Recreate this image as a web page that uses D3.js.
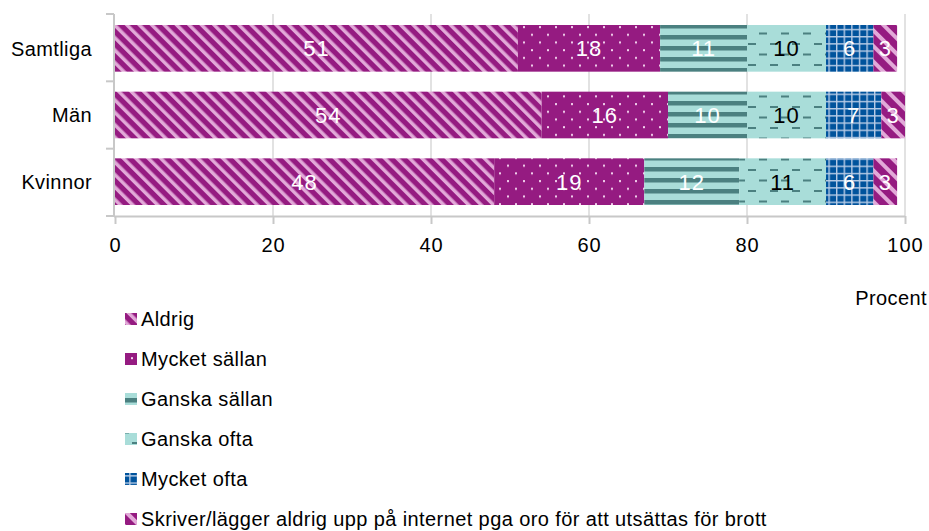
<!DOCTYPE html>
<html><head><meta charset="utf-8">
<script src="https://cdn.jsdelivr.net/npm/d3@7"></script>
<style>
body{margin:0;background:#fff;}
text{font-family:"Liberation Sans",Arial,sans-serif;}
</style></head>
<body><svg id="c" width="929" height="531"></svg>
<script>
const categories = ["Samtliga","Män","Kvinnor"];
const seriesNames = ["Aldrig","Mycket sällan","Ganska sällan","Ganska ofta","Mycket ofta","Skriver/lägger aldrig upp på internet pga oro för att utsättas för brott"];
const aldrig = [51,54,48];
const mycketSallan = [18,16,19];
const ganskaSallan = [11,10,12];
const ganskaOfta = [10,10,11];
const mycketOfta = [6,7,6];
const skriver = [3,3,3];
const xTicks = [0,20,40,60,80,100];
const axisTitle = "Procent";

const seriesValues = [aldrig,mycketSallan,ganskaSallan,ganskaOfta,mycketOfta,skriver];
const patternIds = ["p0","p1","p2","p3","p4","p5"];
const labelColors = ["#fff","#fff","#fff","#000","#fff","#fff"];

const svg = d3.select("#c");
const defs = svg.append("defs");
const PURPLE="#951b81", PINK="#e2a9d8", TL="#a9ddd9", TD="#4b8080", BLUE="#00539c", BL="#b8cce6";

// p0 diagonal stripes
let p = defs.append("pattern").attr("id","p0").attr("patternUnits","userSpaceOnUse")
  .attr("width",8.8).attr("height",8.8).attr("patternTransform","rotate(-45)");
p.append("rect").attr("width",8.8).attr("height",8.8).attr("fill",PURPLE);
p.append("rect").attr("width",3.5).attr("height",8.8).attr("fill",PINK);
// p1 dots
p = defs.append("pattern").attr("id","p1").attr("patternUnits","userSpaceOnUse")
  .attr("width",16).attr("height",15.4);
p.append("rect").attr("width",16).attr("height",15.4).attr("fill",PURPLE);
p.append("rect").attr("x",3).attr("y",3).attr("width",2).attr("height",2).attr("fill","#f3d3ee");
p.append("rect").attr("x",11).attr("y",10.7).attr("width",2).attr("height",2).attr("fill","#f3d3ee");
// p2 horizontal stripes
p = defs.append("pattern").attr("id","p2").attr("patternUnits","userSpaceOnUse")
  .attr("width",10).attr("height",11);
p.append("rect").attr("width",10).attr("height",11).attr("fill",TL);
p.append("rect").attr("y",2).attr("width",10).attr("height",4.5).attr("fill",TD);
// p3 dashes
p = defs.append("pattern").attr("id","p3").attr("patternUnits","userSpaceOnUse")
  .attr("width",22).attr("height",21);
p.append("rect").attr("width",22).attr("height",21).attr("fill",TL);
p.append("rect").attr("x",0).attr("y",1).attr("width",8).attr("height",2).attr("fill",TD);
p.append("rect").attr("x",11).attr("y",11.5).attr("width",8).attr("height",2).attr("fill",TD);
// p4 grid
p = defs.append("pattern").attr("id","p4").attr("patternUnits","userSpaceOnUse")
  .attr("width",7.6).attr("height",7.2);
p.append("rect").attr("width",7.6).attr("height",7.2).attr("fill",BLUE);
p.append("rect").attr("width",1.4).attr("height",7.2).attr("fill",BL);
p.append("rect").attr("width",7.6).attr("height",1.4).attr("fill",BL);
// p5 wider diagonal stripes
p = defs.append("pattern").attr("id","p5").attr("patternUnits","userSpaceOnUse")
  .attr("width",11).attr("height",11).attr("patternTransform","rotate(-45)");
p.append("rect").attr("width",11).attr("height",11).attr("fill",PURPLE);
p.append("rect").attr("width",4).attr("height",11).attr("fill",PINK);

const x = d3.scaleLinear().domain([0,100]).range([115,905]);
const y = d3.scaleBand().domain(categories).range([14,216]).paddingInner(0.3).paddingOuter(0.165);
const AX="#c8c8c8";

// gridlines
svg.append("g").selectAll("line").data(xTicks.filter(d=>d>0)).join("line")
  .attr("x1",d=>x(d)).attr("x2",d=>x(d)).attr("y1",14).attr("y2",216)
  .attr("stroke","#d9d9d9").attr("stroke-width",1.5);

// x axis
const xa = svg.append("g").attr("transform","translate(0,216)")
  .call(d3.axisBottom(x).tickValues(xTicks).tickSize(8).tickPadding(14).tickSizeOuter(0));
xa.select(".domain").attr("stroke",AX).attr("stroke-width",2).attr("d",`M${x(0)-1},0.5H${x(100)}`);
xa.selectAll(".tick line").attr("stroke",AX).attr("stroke-width",2);
xa.selectAll(".tick text").attr("font-size",20).attr("letter-spacing","1px").attr("fill","#000")
  .attr("font-family","Liberation Sans, Arial, sans-serif");

// y axis
const ya = svg.append("g");
ya.append("line").attr("x1",114).attr("x2",114).attr("y1",14).attr("y2",216).attr("stroke",AX).attr("stroke-width",2);
const bounds = [14, 14+ (216-14)/3, 14+2*(216-14)/3, 216];
ya.selectAll("line.t").data(bounds).join("line").attr("class","t")
  .attr("x1",106).attr("x2",114).attr("y1",d=>d).attr("y2",d=>d).attr("stroke",AX).attr("stroke-width",2);
ya.selectAll("text").data(categories).join("text")
  .attr("x",92).attr("y",d=>y(d)+y.bandwidth()/2).attr("dy","0.36em")
  .attr("text-anchor","end").attr("font-size",20).attr("letter-spacing","0.4px").text(d=>d);

// bars
const stackData = categories.map((c,i)=>{
  const o={cat:c}; seriesValues.forEach((s,j)=>o["s"+j]=s[i]); return o;});
const stack = d3.stack().keys(seriesValues.map((s,j)=>"s"+j))(stackData);
const bars = svg.append("g");
stack.forEach((layer,j)=>{
  bars.append("g").selectAll("rect").data(layer).join("rect")
    .attr("x",d=>x(d[0])).attr("width",d=>x(d[1])-x(d[0]))
    .attr("y",d=>y(d.data.cat)).attr("height",y.bandwidth())
    .attr("fill",`url(#${patternIds[j]})`);
});
stack.forEach((layer,j)=>{
  bars.append("g").selectAll("text").data(layer).join("text")
    .attr("x",d=>(x(d[0])+x(d[1]))/2).attr("y",d=>y(d.data.cat)+y.bandwidth()/2).attr("dy","0.36em")
    .attr("text-anchor","middle").attr("font-size",22).attr("letter-spacing","1px")
    .attr("fill",labelColors[j]).text(d=>d[1]-d[0]);
});

svg.append("text").attr("x",927).attr("y",305).attr("text-anchor","end")
  .attr("font-size",20).attr("letter-spacing","0.4px").text(axisTitle);

// legend
const lg = svg.append("g");
seriesNames.forEach((n,j)=>{
  const cy = 319 + j*40;
  lg.append("rect").attr("x",125).attr("y",cy-6).attr("width",12).attr("height",12).attr("fill",`url(#${patternIds[j]})`);
  lg.append("text").attr("x",141).attr("y",cy).attr("dy","0.36em").attr("font-size",20)
    .attr("letter-spacing","0.4px").text(n);
});
</script></body></html>
